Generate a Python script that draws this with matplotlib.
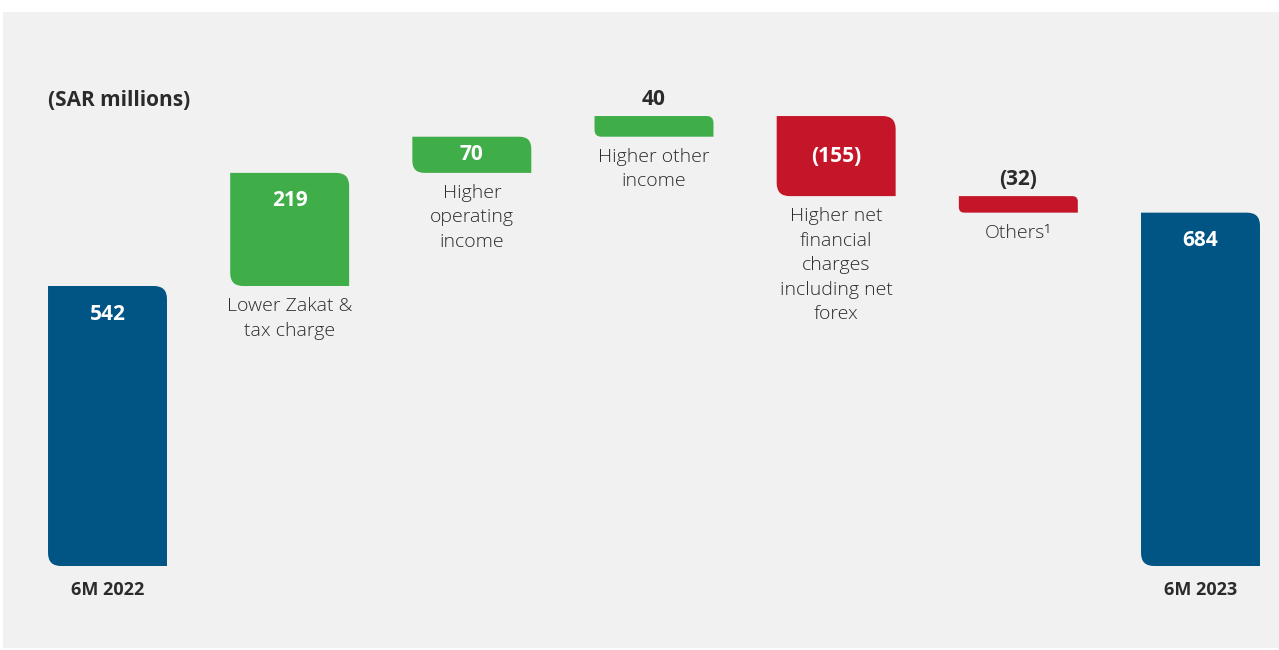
import numpy as np
import matplotlib
matplotlib.use("Agg")
import matplotlib.pyplot as plt
from matplotlib.path import Path
from matplotlib.patches import PathPatch, Rectangle


# data
steps = ["6M 2022", "Lower Zakat &\ntax charge", "Higher\noperating\nincome",
         "Higher other\nincome", "Higher net\nfinancial\ncharges\nincluding net\nforex",
         "Others\u00b9", "6M 2023"]
values = [542, 219, 70, 40, -155, -32, 684]
value_labels = ["542", "219", "70", "40", "(155)", "(32)", "684"]
is_total = [True, False, False, False, False, False, True]

NAVY = "#005584"
GREEN = "#3fae49"
RED = "#c41628"
PANEL = "#f1f1f1"
TEXT = "#2b2b2b"

plt.rcParams["font.family"] = ["Open Sans", "DejaVu Sans"]

W, H, DPI = 1279, 650, 100
PX_PER_UNIT = 0.5166      # vertical pixels per SAR million
X_STEP = 182.17           # pixels between bar centres
BAR_W = 0.653


def rounded_bar(ax, x0, x1, y0, y1, color, r_px=13):
    """Bar with rounded top-right and bottom-left corners."""
    h_px = (y1 - y0) * PX_PER_UNIT
    r = min(r_px, h_px / 3.0)
    rx = r / X_STEP
    ry = r / PX_PER_UNIT
    verts = [
        (x0, y0 + ry),
        (x0, y1),
        (x1 - rx, y1),
        (x1, y1), (x1, y1 - ry),
        (x1, y0),
        (x0 + rx, y0),
        (x0, y0), (x0, y0 + ry),
        (x0, y0 + ry),
    ]
    codes = [Path.MOVETO, Path.LINETO, Path.LINETO,
             Path.CURVE3, Path.CURVE3, Path.LINETO, Path.LINETO,
             Path.CURVE3, Path.CURVE3, Path.CLOSEPOLY]
    ax.add_patch(PathPatch(Path(verts, codes), facecolor=color, edgecolor="none"))


fig = plt.figure(figsize=(W / DPI, H / DPI), dpi=DPI, facecolor="white")
fig.patches.append(Rectangle((3 / W, 1 - 648 / H), 1, (648 - 12) / H,
                             transform=fig.transFigure, facecolor=PANEL,
                             edgecolor="none", zorder=0))

ax = fig.add_axes([0, 0, 1, 1], zorder=2)
ax.set_facecolor("none")
ax.set_xlim(-107.5 / X_STEP, 6 + 78.5 / X_STEP)
ax.set_ylim(-(H - 566) / PX_PER_UNIT, 566 / PX_PER_UNIT)
ax.axis("off")

running = 0
for i, (name, v, lab, tot) in enumerate(zip(steps, values, value_labels, is_total)):
    if tot:
        lo, hi = 0, v
        color = NAVY
        running = v
    else:
        start = running
        running = running + v
        lo, hi = min(start, running), max(start, running)
        color = GREEN if v > 0 else RED
    x0, x1 = i - BAR_W / 2, i + BAR_W / 2
    rounded_bar(ax, x0, x1, lo, hi, color)

    h_px = (hi - lo) * PX_PER_UNIT
    if h_px < 30:
        ax.annotate(lab, (i, hi), xytext=(0, 17), textcoords="offset pixels",
                    ha="center", va="center", fontsize=15, fontweight="bold",
                    color=TEXT)
    elif h_px < 90:
        ax.text(i, (lo + hi) / 2, lab, ha="center", va="center", fontsize=15,
                fontweight="bold", color="white")
    else:
        ax.annotate(lab, (i, hi), xytext=(0, -28), textcoords="offset pixels",
                    ha="center", va="center", fontsize=15, fontweight="bold",
                    color="white")

    if tot:
        ax.annotate(name, (i, lo), xytext=(0, -24), textcoords="offset pixels",
                    ha="center", va="center", fontsize=13, fontweight="bold",
                    color=TEXT)
    else:
        ax.annotate(name, (i, lo), xytext=(0, -11), textcoords="offset pixels",
                    ha="center", va="top", fontsize=14, fontweight="light",
                    color=TEXT, linespacing=1.47)

fig.text(48 / W, 1 - 100 / H, "(SAR millions)", ha="left", va="center",
         fontsize=15, fontweight="bold", color=TEXT)

fig.savefig("out.png", dpi=DPI, facecolor="white")
